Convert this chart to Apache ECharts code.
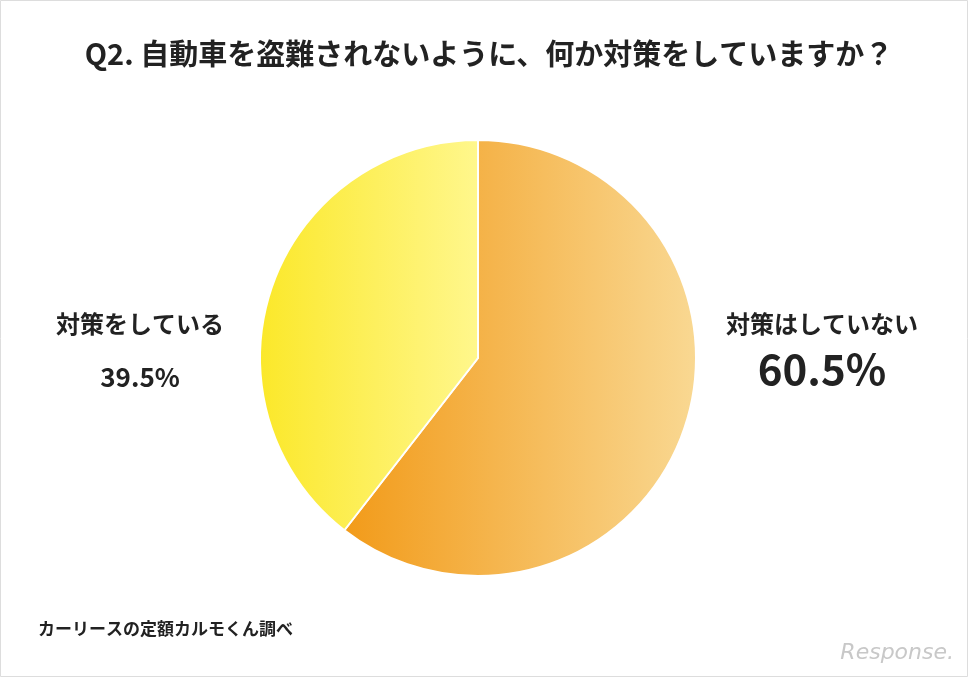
<!DOCTYPE html>
<html><head><meta charset="utf-8">
<script src="https://cdn.jsdelivr.net/npm/echarts@6/dist/echarts.min.js"></script>
<style>html,body{margin:0;padding:0;background:#fff}#c{width:968px;height:677px}</style>
</head><body><div id="c"></div>
<script>
var title = 'Q2. 自動車を盗難されないように、何か対策をしていますか？';
var names = ['対策はしていない', '対策をしている'];
var values = [60.5, 39.5];
var source = 'カーリースの定額カルモくん調べ';

var chart = echarts.init(document.getElementById('c'));
var ff = '"Noto Sans CJK JP", sans-serif';
var cx = 478, cy = 358, r = 218;

chart.setOption({
  backgroundColor: '#fff',
  title: { text: title, left: 484, top: 34, textAlign: 'center',
    textStyle: { fontFamily: ff, fontSize: 29, fontWeight: 'bold', color: '#222' } },
  series: [{
    type: 'pie', center: [cx, cy], radius: r, startAngle: 90, clockwise: true,
    label: { show: false }, labelLine: { show: false }, silent: true,
    itemStyle: { borderColor: '#fff', borderWidth: 2 },
    data: [
      { name: names[0], value: values[0], itemStyle: { color: new echarts.graphic.LinearGradient(340, 0, cx + r, 0, [
        { offset: 0, color: '#F29A18' }, { offset: 1, color: '#F9D892' }], true) } },
      { name: names[1], value: values[1], itemStyle: { color: new echarts.graphic.LinearGradient(cx - r, 0, cx, 0, [
        { offset: 0, color: '#FBE82A' }, { offset: 1, color: '#FFF78C' }], true) } }
    ]
  }],
  graphic: [
    { type: 'text', x: 140, y: 312, style: { text: names[1], font: 'bold 24px ' + ff, fill: '#222', textAlign: 'center' } },
    { type: 'text', x: 140, y: 364, style: { text: values[1].toFixed(1) + '%', font: 'bold 26px ' + ff, fill: '#222', textAlign: 'center' } },
    { type: 'text', x: 822, y: 312, style: { text: names[0], font: 'bold 24px ' + ff, fill: '#222', textAlign: 'center' } },
    { type: 'text', x: 822, y: 348, style: { text: values[0].toFixed(1) + '%', font: 'bold 42px ' + ff, fill: '#222', textAlign: 'center' } },
    { type: 'text', left: 38, top: 620, style: { text: source, font: 'bold 17px ' + ff, fill: '#222' } },
    { type: 'text', right: 14, top: 642, style: { text: 'Response.', font: 'italic 22px "DejaVu Sans", sans-serif', fill: '#c8c8c8' } },
    { type: 'rect', shape: { x: 0.5, y: 0.5, width: 967, height: 676 }, style: { fill: 'none', stroke: '#ddd', lineWidth: 1 } }
  ]
});
</script></body></html>
